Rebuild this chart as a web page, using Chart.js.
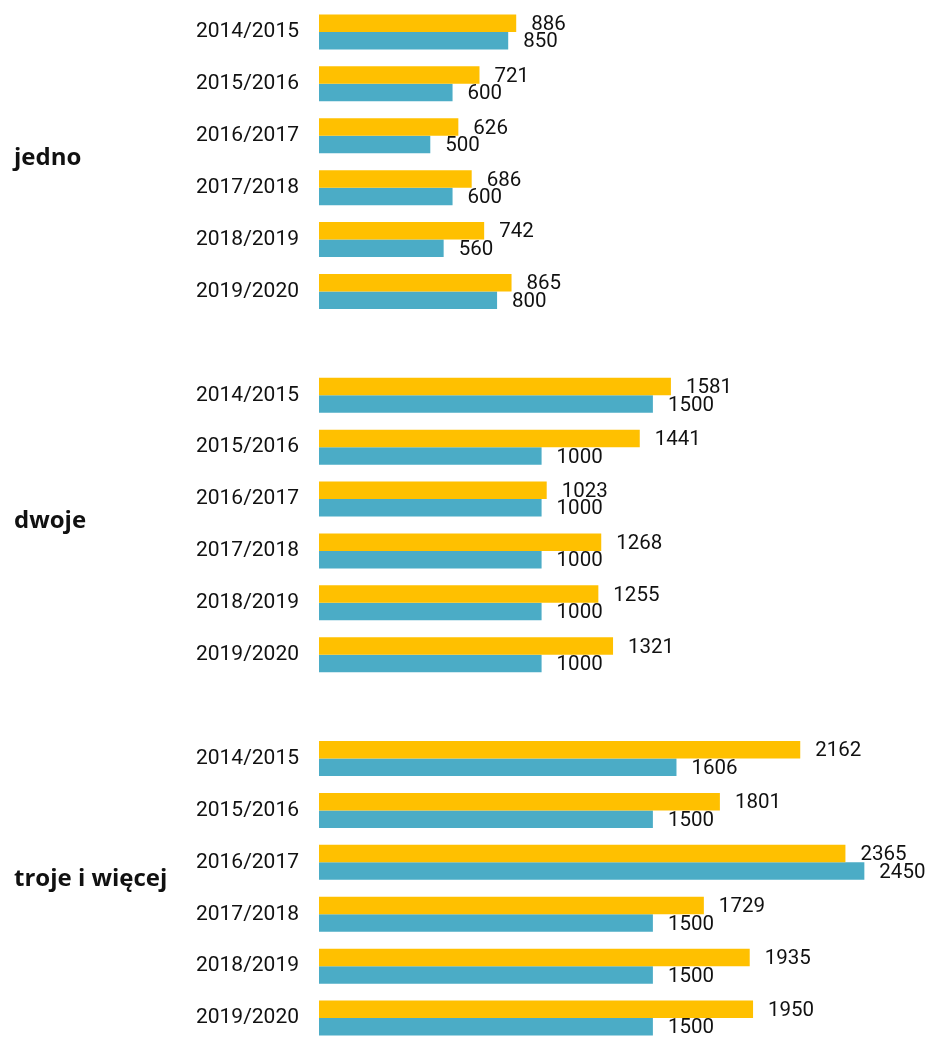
<!DOCTYPE html>
<html>
<head>
<meta charset="utf-8">
<script src="https://cdn.jsdelivr.net/npm/chart.js@4/dist/chart.umd.min.js"></script>
<style>
  html, body { margin: 0; padding: 0; background: #fff; overflow: hidden; }
  #wrap { position: relative; width: 933px; height: 1050px; }
</style>
</head>
<body>
<div id="wrap"><canvas id="c"></canvas></div>
<script>
// ---- data ----
const groups = ["jedno", "dwoje", "troje i więcej"];
const seasons = ["2014/2015", "2015/2016", "2016/2017", "2017/2018", "2018/2019", "2019/2020"];
const yellowJedno = [886, 721, 626, 686, 742, 865];
const yellowDwoje = [1581, 1441, 1023, 1268, 1255, 1321];
const yellowTroje = [2162, 1801, 2365, 1729, 1935, 1950];
const tealJedno = [850, 600, 500, 600, 560, 800];
const tealDwoje = [1500, 1000, 1000, 1000, 1000, 1000];
const tealTroje = [1606, 1500, 2450, 1500, 1500, 1500];
const seriesNames = ["Seria 1", "Seria 2"];

// build category list with a blank spacer between groups
const labels = [];
const yellowData = [];
const tealData = [];
const groupIndex = []; // [first, last] category index of each group
const yGroups = [yellowJedno, yellowDwoje, yellowTroje];
const tGroups = [tealJedno, tealDwoje, tealTroje];
groups.forEach((g, gi) => {
  if (gi > 0) { labels.push(""); yellowData.push(null); tealData.push(null); }
  const first = labels.length;
  seasons.forEach((s, si) => {
    labels.push(s);
    yellowData.push(yGroups[gi][si]);
    tealData.push(tGroups[gi][si]);
  });
  groupIndex.push([first, labels.length - 1]);
});

const valueLabels = {
  id: 'valueLabels',
  afterDatasetsDraw(chart) {
    const ctx = chart.ctx;
    ctx.save();
    ctx.font = '20.5px Roboto';
    ctx.fillStyle = '#111';
    ctx.textAlign = 'left';
    ctx.textBaseline = 'middle';
    chart.data.datasets.forEach((ds, di) => {
      const meta = chart.getDatasetMeta(di);
      meta.data.forEach((el, i) => {
        const v = ds.data[i];
        if (v === null || v === undefined) return;
        ctx.fillText(String(v), el.x + 15, el.y + 1.5);
      });
    });
    ctx.restore();
  }
};

const groupLabelShift = [-4, -4, -9];
const groupLabels = {
  id: 'groupLabels',
  afterDraw(chart) {
    const ctx = chart.ctx;
    const y = chart.scales.y;
    ctx.save();
    ctx.font = 'bold 24px "Open Sans"';
    ctx.fillStyle = '#111';
    ctx.textAlign = 'left';
    ctx.textBaseline = 'middle';
    groups.forEach((g, gi) => {
      const [a, b] = groupIndex[gi];
      const py = (y.getPixelForValue(a) + y.getPixelForValue(b)) / 2;
      ctx.fillText(g, 14, py + groupLabelShift[gi]);
    });
    ctx.restore();
  }
};

new Chart(document.getElementById('c'), {
  type: 'bar',
  data: {
    labels: labels,
    datasets: [
      { label: seriesNames[0], data: yellowData, backgroundColor: '#FFC000', barPercentage: 1, categoryPercentage: 0.675 },
      { label: seriesNames[1], data: tealData, backgroundColor: '#4BACC6', barPercentage: 1, categoryPercentage: 0.675 }
    ]
  },
  options: {
    indexAxis: 'y',
    responsive: true,
    maintainAspectRatio: false,
    animation: false,
    layout: { padding: { top: 6, bottom: 6, left: 0, right: 13 } },
    plugins: { legend: { display: false }, tooltip: { enabled: false } },
    scales: {
      x: {
        display: false,
        min: 0,
        max: 2700
      },
      y: {
        grid: { display: false, drawTicks: false },
        border: { display: false },
        ticks: { font: { family: 'Roboto', size: 21 }, color: '#111', padding: 20, autoSkip: false },
        afterFit(scale) { scale.width = 319; scale.paddingTop = 0; scale.paddingBottom = 0; }
      }
    }
  },
  plugins: [valueLabels, groupLabels]
});
</script>
</body>
</html>
